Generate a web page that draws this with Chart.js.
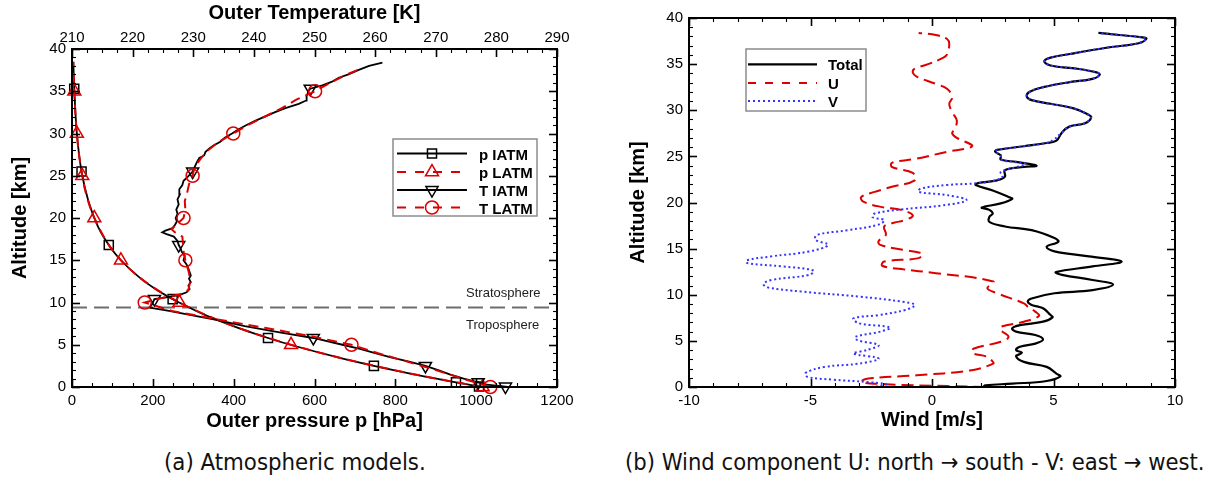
<!DOCTYPE html>
<html>
<head>
<meta charset="utf-8">
<title>Atmospheric models and wind profile</title>
<script src="https://cdn.jsdelivr.net/npm/chart.js@4.4.0/dist/chart.umd.min.js"></script>
<style>
  html, body { margin: 0; padding: 0; background: #fff; }
  #wrap { position: relative; width: 1210px; height: 481px; overflow: hidden; background: #fff; }
  canvas { position: absolute; top: 0; }
  #atmo { left: 0; }
  #wind { left: 605px; }
  .cap { position: absolute; white-space: nowrap; color: #111;
         font-family: "DejaVu Sans Condensed", "DejaVu Sans", sans-serif; font-size: 20px; line-height: 1.2; }
</style>
</head>
<body>
<div id="wrap">
  <canvas id="atmo" width="605" height="440" style="width:605px;height:440px"></canvas>
  <canvas id="wind" width="605" height="440" style="width:605px;height:440px"></canvas>
  <div class="cap" id="capA">(a) Atmospheric models.</div>
  <div class="cap" id="capB">(b) Wind component U: north → south - V: east → west.</div>
</div>
<script>
// ---------------- axis ticks ----------------
const altitudeTicks    = [0, 5, 10, 15, 20, 25, 30, 35, 40];
const pressureTicks    = [0, 200, 400, 600, 800, 1000, 1200];
const temperatureTicks = [210, 220, 230, 240, 250, 260, 270, 280, 290];
const windTicks        = [-10, -5, 0, 5, 10];

// ---------------- pressure [hPa] vs altitude [km] ----------------
const pIatmAlt = [0, 0.05, 0.55, 1.5, 2.5, 3.5, 5, 5.8, 7, 8.5, 10, 10.4, 11.5, 13, 15, 16.8, 19, 22, 25.5, 30, 35.3, 38.5];
const pIatm    = [1013, 1007, 950, 846, 747, 658, 540, 485, 411, 330, 265, 249, 209, 166, 121, 91, 64, 40.5, 23.6, 12.0, 5.5, 3.3];

const pLatmAlt = [0, 1, 2, 3, 4, 5, 6, 7, 8, 9, 10, 11, 12, 13, 15, 17, 20, 22.5, 25, 27.5, 30, 32.5, 35, 38.5];
const pLatm    = [1016, 901, 797, 703, 618, 542, 473, 412, 357, 309, 266, 228, 195, 166, 121, 88.5, 55.3, 36.8, 25.4, 17.4, 12.0, 8.3, 5.7, 3.3];

// ---------------- temperature [K] vs altitude [km] ----------------
const tIatmAlt = [0, 0.05, 0.3, 0.55, 1.0, 1.5, 2.0, 2.5, 3.0, 3.5, 4.0, 4.5, 5.0, 5.8, 6.5, 7.2, 7.9, 8.6, 9.0, 9.4,
                  9.8, 10.4, 10.6, 10.9, 11.2, 11.6, 12.0, 12.4, 12.8, 13.2, 13.6, 14.0, 14.5, 15.0, 15.5, 16.0, 16.4, 16.8,
                  17.3, 17.8, 18.1, 18.3, 18.5, 18.8, 19.2, 19.6, 20.0, 20.5, 21.0, 21.6, 22.2, 22.8, 23.4, 23.9, 24.4, 24.8,
                  25.5, 26.0, 26.6, 27.1, 27.4, 27.8, 28.2, 28.6, 29.0, 29.5, 30.0, 30.5, 31.0, 31.5, 32.0, 32.5, 33.0, 33.5,
                  33.9, 34.4, 35.0, 35.3, 35.7, 36.1, 36.6, 37.0, 37.5, 38.0, 38.4];
const tIatm    = [281.8, 281.5, 278.0, 277.0, 274.6, 272.3, 270.4, 268.3, 265.6, 262.6, 260.0, 257.5, 254.6, 249.8, 244.0, 238.5, 234.0, 229.0, 226.0, 222.8,
                  223.2, 223.6, 225.5, 227.8, 228.9, 229.4, 229.2, 229.6, 229.3, 229.6, 229.4, 229.2, 228.9, 228.4, 228.6, 228.1, 227.9, 227.6,
                  227.4, 226.8, 225.6, 224.9, 225.4, 226.6, 227.0, 227.3, 227.1, 227.4, 227.2, 227.6, 227.4, 227.8, 227.7, 228.2, 228.4, 229.0,
                  229.9, 230.2, 230.6, 231.0, 231.8, 232.0, 232.6, 233.4, 234.4, 235.2, 236.4, 237.5, 238.8, 240.2, 241.8, 243.4, 245.2, 247.4,
                  248.6, 248.7, 249.0, 249.3, 251.3, 252.8, 254.0, 255.6, 257.2, 259.0, 261.2];

const tLatmAlt = [0, 0.5, 1, 2, 3, 4, 5, 6, 7, 8, 9, 10, 10.5, 11, 11.5, 12.5, 13.5, 15, 16, 17, 17.8, 18.3, 18.7, 19.2,
                  20, 21, 22, 23, 24, 25, 26, 27, 28, 29, 30, 31, 32, 33, 34, 35, 36, 37, 37.6];
const tLatm    = [279.0, 276.8, 274.4, 270.0, 265.3, 260.5, 256.1, 249.5, 241.8, 234.0, 226.5, 222.0, 224.6, 228.0, 229.2, 229.5, 229.3, 228.7, 228.4, 228.3, 228.2, 227.0, 226.4, 227.2,
                  228.4, 228.7, 228.6, 229.0, 229.3, 229.9, 230.2, 231.2, 232.4, 234.2, 236.6, 239.0, 241.8, 244.6, 247.0, 250.1, 252.6, 255.4, 257.4];

// altitudes carrying a symbol on each model curve
const iatmMarkerAlt = [0.05, 0.55, 2.5, 5.8, 10.4, 16.8, 25.5, 35.3];
const latmMarkerAlt = [0, 5, 10, 15, 20, 25, 30, 35];

// tropopause height [km]
const tropopauseAlt = 9.4;

// ---------------- wind [m/s] vs altitude [km] ----------------
const totalAlt = [0, 0.18, 0.36, 0.65, 1.15, 1.45, 2.18, 2.72, 3.34, 3.7, 4.0, 4.36, 4.7, 5.15, 5.63, 6.0, 6.35, 6.7, 7.08, 7.55,
                  7.8, 8.53, 8.9, 9.26, 9.6, 10.16, 10.5, 11.1, 11.6, 12.16, 12.45, 13.07, 13.6, 14.16, 14.7, 15.2, 15.75, 16.15,
                  17.0, 17.4, 17.9, 18.45, 18.8, 19.2, 19.45, 19.9, 20.4, 20.6, 21.3, 21.9, 22.1, 22.4, 22.8, 23.5, 23.85, 24.0,
                  24.4, 24.65, 25.1, 25.5, 25.7, 26.1, 26.45, 26.7, 27.6, 28.25, 28.6, 29.25, 29.6, 30.2, 30.7, 31.1, 31.5, 32.0,
                  32.5, 33.05, 33.4, 33.85, 34.1, 34.5, 34.85, 35.3, 35.7, 36.1, 36.8, 37.26, 37.75, 37.9, 38.16, 38.38];
const total    = [2.1, 2.2, 3.3, 4.72, 5.28, 5.12, 4.72, 3.78, 3.46, 3.7, 3.46, 3.62, 4.25, 4.57, 4.25, 3.46, 3.3, 3.62, 4.57, 4.96,
                  4.88, 4.57, 4.1, 3.94, 4.1, 5.04, 6.61, 7.45, 6.61, 5.35, 5.1, 6.61, 7.8, 6.46, 5.04, 4.72, 5.2, 5.04,
                  4.1, 3.0, 2.36, 2.36, 2.5, 2.36, 2.05, 2.83, 3.3, 3.15, 2.5, 1.8, 1.89, 2.68, 3.0, 3.0, 3.78, 4.3,
                  3.46, 2.83, 2.83, 2.6, 2.68, 3.78, 4.72, 5.12, 5.35, 5.67, 6.3, 6.55, 6.38, 5.83, 4.88, 4.1, 3.9, 4.02,
                  4.57, 5.67, 6.6, 6.9, 6.77, 5.98, 4.88, 4.62, 4.88, 5.67, 7.24, 8.5, 8.82, 8.66, 7.7, 6.85];

const uAlt = [0, 0.1, 0.3, 0.54, 0.9, 1.27, 1.8, 2.54, 2.9, 3.27, 3.7, 4.17, 4.9, 5.44, 6.17, 6.53, 7.08, 7.7, 8.17, 8.7,
              9.07, 10.16, 10.7, 11.43, 12.34, 12.78, 13.14, 13.6, 13.97, 14.45, 14.9, 15.4, 15.8, 16.5, 17.4, 17.8, 18.1, 18.6,
              19.2, 19.5, 20.1, 20.6, 21.15, 21.7, 22.4, 23.2, 23.85, 24.3, 24.75, 25.5, 25.9, 26.2, 27.0, 27.5, 28.0, 28.9,
              29.8, 30.7, 31.4, 32.3, 32.86, 33.65, 34.1, 34.5, 35.0, 35.7, 36.1, 37.2, 37.7, 38.16, 38.38];
const u    = [2.2, 0.63, -1.89, -2.91, -2.68, -0.63, 1.57, 2.52, 2.45, 2.28, 1.65, 1.73, 2.83, 3.15, 2.83, 2.83, 3.78, 4.4, 4.25, 3.94,
              3.78, 2.68, 2.28, 2.52, 0.16, -1.26, -2.05, -1.97, -0.55, -0.39, -1.26, -2.13, -2.2, -1.9, -1.97, -1.57, -1.1, -0.79,
              -1.26, -2.05, -2.83, -2.91, -2.36, -1.65, -0.71, -0.79, -1.65, -1.65, -0.63, 0.63, 1.5, 1.65, 1.02, 0.83, 0.94, 1.02,
              0.83, 0.71, 0.83, 0.63, 0.16, -0.63, -0.79, -0.71, -0.16, 0.47, 0.63, 0.71, 0.63, 0.16, -0.55];

const vAlt = [0, 0.1, 0.3, 0.54, 0.8, 1.09, 1.52, 2.18, 2.54, 3.09, 3.63, 4.0, 4.54, 5.08, 5.44, 6.0, 6.46, 6.9, 7.44, 7.8,
              8.35, 8.9, 9.26, 9.8, 10.34, 10.8, 11.18, 11.6, 12.16, 12.63, 13.07, 13.43, 13.72, 14.16, 14.7, 15.4, 15.97, 16.5,
              17.0, 17.6, 18.1, 18.4, 18.8, 19.25, 19.7, 20.25, 20.8, 21.15, 21.5, 21.9, 22.1, 22.4, 22.8, 23.3, 23.85, 24.2,
              24.4, 24.65, 25.1, 25.5, 25.7, 26.1, 26.45, 26.8, 27.6, 28.25, 28.6, 29.25, 29.6, 30.2, 30.7, 31.1, 31.5, 32.0,
              32.5, 33.05, 33.4, 33.85, 34.1, 34.5, 34.85, 35.3, 35.7, 36.1, 36.8, 37.26, 37.75, 37.9, 38.16, 38.38];
const v    = [-2.5, -2.2, -1.89, -2.68, -4.1, -5.12, -5.2, -4.41, -2.99, -2.2, -3.23, -2.68, -2.2, -3.07, -3.15, -2.13, -1.73, -2.99, -3.23, -2.2,
              -1.1, -0.71, -1.26, -2.99, -5.35, -6.77, -6.93, -6.61, -5.04, -4.88, -6.14, -7.6, -7.64, -6.61, -5.04, -4.28, -4.8, -4.72,
              -3.46, -2.2, -1.97, -2.44, -2.36, -1.26, 0.47, 1.42, 0.63, -0.55, -0.47, 0.63, 1.89, 2.6, 2.9, 2.83, 3.5, 3.86,
              3.4, 2.83, 2.83, 2.6, 2.68, 3.78, 4.72, 5.0, 5.35, 5.67, 6.3, 6.55, 6.38, 5.83, 4.88, 4.1, 3.9, 4.02,
              4.57, 5.67, 6.6, 6.9, 6.77, 5.98, 4.88, 4.62, 4.88, 5.67, 7.24, 8.5, 8.82, 8.66, 7.7, 6.85];

// ---------------- helpers ----------------
const RED = '#dd0000', BLACK = '#000000', BLUE = '#3434ff', GRAY = '#6e6e6e';
const FONT = '"Liberation Sans", Arial, Helvetica, sans-serif';
const xy = (vals, alts) => vals.map((val, i) => ({ x: val, y: alts[i] }));
const markedAt = (alts, r) => c => (c.raw && alts.includes(c.raw.y)) ? r : 0;
const fixedTicks = list => scale => { scale.ticks = list.map(value => ({ value })); };
const plain = val => String(val);

function drawMarker(ctx, style, x, y, r, rot) {
  ctx.beginPath();
  if (style === 'rect') {
    const s = Math.SQRT1_2 * r;
    ctx.rect(x - s, y - s, 2 * s, 2 * s);
  } else if (style === 'circle') {
    ctx.arc(x, y, r, 0, Math.PI * 2);
  } else if (style === 'triangle') {
    let a = (rot || 0) * Math.PI / 180;
    for (let k = 0; k < 3; k++) {
      const px = x + Math.sin(a) * r, py = y - Math.cos(a) * r;
      k === 0 ? ctx.moveTo(px, py) : ctx.lineTo(px, py);
      a += 2 * Math.PI / 3;
    }
    ctx.closePath();
  }
  ctx.stroke();
}

// inward major/minor ticks on every side plus the plot frame
const frameTicks = {
  id: 'frameTicks',
  afterDatasetsDraw(chart, args, opts) {
    const { ctx, chartArea: a } = chart;
    ctx.save();
    ctx.strokeStyle = '#000';
    for (const side of opts.sides) {
      const sc = chart.scales[side.scale];
      const n = Math.round((sc.max - sc.min) / side.minor);
      for (let k = 0; k <= n; k++) {
        const val = sc.min + k * side.minor;
        const q = val / side.major;
        const major = Math.abs(q - Math.round(q)) < 1e-6;
        const len = major ? 8 : 4;
        ctx.lineWidth = major ? 1.6 : 1.1;
        const p = Math.round(sc.getPixelForValue(val)) + 0.5;
        ctx.beginPath();
        if (side.edge === 'bottom') { ctx.moveTo(p, a.bottom); ctx.lineTo(p, a.bottom - len); }
        else if (side.edge === 'top') { ctx.moveTo(p, a.top); ctx.lineTo(p, a.top + len); }
        else if (side.edge === 'left') { ctx.moveTo(a.left, p); ctx.lineTo(a.left + len, p); }
        else { ctx.moveTo(a.right, p); ctx.lineTo(a.right - len, p); }
        ctx.stroke();
      }
    }
    ctx.lineWidth = 2;
    ctx.strokeRect(a.left, a.top, a.right - a.left, a.bottom - a.top);
    ctx.restore();
  }
};

// boxed legend with line sample, optional symbol and bold label
const boxLegend = {
  id: 'boxLegend',
  afterDraw(chart, args, o) {
    const ctx = chart.ctx;
    ctx.save();
    ctx.fillStyle = '#fff';
    ctx.fillRect(o.x, o.y, o.w, o.h);
    ctx.strokeStyle = '#8c8c8c';
    ctx.lineWidth = 1.5;
    ctx.strokeRect(o.x, o.y, o.w, o.h);
    for (const it of o.items) {
      ctx.strokeStyle = it.color;
      ctx.lineWidth = it.width;
      ctx.setLineDash(it.dash || []);
      ctx.beginPath();
      ctx.moveTo(o.lineX0, it.y);
      ctx.lineTo(o.lineX1, it.y);
      ctx.stroke();
      ctx.setLineDash([]);
      if (it.marker) {
        ctx.lineWidth = 1.5;
        drawMarker(ctx, it.marker, (o.lineX0 + o.lineX1) / 2, it.y, it.r, it.rot);
      }
      ctx.fillStyle = '#000';
      ctx.font = 'bold 15px ' + FONT;
      ctx.textBaseline = 'alphabetic';
      ctx.fillText(it.label, o.textX, it.y + 6);
    }
    ctx.restore();
  }
};

// layer names beside the tropopause line
const layerNames = {
  id: 'layerNames',
  afterDatasetsDraw(chart, args, o) {
    const ctx = chart.ctx, sx = chart.scales.x, sy = chart.scales.y;
    ctx.save();
    ctx.fillStyle = '#222';
    ctx.font = '13px ' + FONT;
    ctx.textBaseline = 'middle';
    for (const t of o.items) ctx.fillText(t.text, sx.getPixelForValue(o.x), sy.getPixelForValue(t.alt));
    ctx.restore();
  }
};

Chart.defaults.color = '#000';
Chart.defaults.font.family = FONT;

const tickFont = { family: FONT, size: 15 };
const titleFont = { family: FONT, size: 20, weight: 'bold', lineHeight: 1 };
const base = {
  animation: false, responsive: false, events: [],
  plugins: { legend: { display: false }, tooltip: { enabled: false } }
};

// ---------------- (a) atmospheric models ----------------
new Chart(document.getElementById('atmo'), {
  type: 'scatter',
  data: {
    datasets: [
      { label: 'T LATM', xAxisID: 'xT', data: xy(tLatm, tLatmAlt), showLine: true, clip: false,
        borderColor: RED, borderWidth: 2, borderDash: [10, 6], tension: 0,
        pointStyle: 'circle', pointRadius: markedAt(latmMarkerAlt, 6.5), pointBorderColor: RED,
        pointBorderWidth: 1.5, pointBackgroundColor: 'rgba(0,0,0,0)' },
      { label: 'T IATM', xAxisID: 'xT', data: xy(tIatm, tIatmAlt), showLine: true, clip: false,
        borderColor: BLACK, borderWidth: 1.8, tension: 0,
        pointStyle: 'triangle', pointRotation: 180, pointRadius: markedAt(iatmMarkerAlt, 7), pointBorderColor: BLACK,
        pointBorderWidth: 1.5, pointBackgroundColor: 'rgba(0,0,0,0)' },
      { label: 'p LATM', xAxisID: 'x', data: xy(pLatm, pLatmAlt), showLine: true, clip: false,
        borderColor: RED, borderWidth: 2, borderDash: [10, 6], tension: 0.35,
        pointStyle: 'triangle', pointRadius: markedAt(latmMarkerAlt, 7.5), pointBorderColor: RED,
        pointBorderWidth: 1.5, pointBackgroundColor: 'rgba(0,0,0,0)' },
      { label: 'p IATM', xAxisID: 'x', data: xy(pIatm, pIatmAlt), showLine: true, clip: false,
        borderColor: BLACK, borderWidth: 1.8, tension: 0.35,
        pointStyle: 'rect', pointRadius: markedAt(iatmMarkerAlt, 6.4), pointBorderColor: BLACK,
        pointBorderWidth: 1.5, pointBackgroundColor: 'rgba(0,0,0,0)' },
      { label: 'Tropopause', xAxisID: 'x', data: xy([0, 1200], [tropopauseAlt, tropopauseAlt]), showLine: true,
        borderColor: GRAY, borderWidth: 2, borderDash: [15, 7], pointRadius: 0 }
    ]
  },
  options: {
    ...base,
    layout: { padding: { left: 0, top: 0, right: 48, bottom: 0 } },
    scales: {
      x: { type: 'linear', position: 'bottom', min: 0, max: 1200,
           afterBuildTicks: fixedTicks(pressureTicks), afterFit: s => { s.height = 53; },
           grid: { display: false, drawTicks: false }, border: { display: false },
           ticks: { font: tickFont, padding: 5, maxRotation: 0, autoSkip: false, callback: plain },
           title: { display: true, text: 'Outer pressure p [hPa]', font: titleFont, padding: { bottom: 9 } } },
      xT: { type: 'linear', position: 'top', min: 210, max: 290,
            afterBuildTicks: fixedTicks(temperatureTicks), afterFit: s => { s.height = 49; },
            grid: { display: false, drawTicks: false }, border: { display: false },
            ticks: { font: tickFont, padding: 2, maxRotation: 0, autoSkip: false, callback: plain },
            title: { display: true, text: 'Outer Temperature [K]', font: titleFont, padding: { top: 3 } } },
      y: { type: 'linear', position: 'left', min: 0, max: 40,
           afterBuildTicks: fixedTicks(altitudeTicks), afterFit: s => { s.width = 72; },
           grid: { display: false, drawTicks: false }, border: { display: false },
           ticks: { font: tickFont, padding: 6, autoSkip: false, callback: plain },
           title: { display: true, text: 'Altitude [km]', font: titleFont, padding: { top: 10 } } }
    },
    plugins: {
      ...base.plugins,
      frameTicks: { sides: [
        { scale: 'x', edge: 'bottom', major: 200, minor: 50 },
        { scale: 'xT', edge: 'top', major: 10, minor: 2.5 },
        { scale: 'y', edge: 'left', major: 5, minor: 1 },
        { scale: 'y', edge: 'right', major: 5, minor: 1 } ] },
      layerNames: { x: 975, items: [ { text: 'Stratosphere', alt: 11.1 }, { text: 'Troposphere', alt: 7.3 } ] },
      boxLegend: { x: 393, y: 139, w: 144, h: 77, lineX0: 397, lineX1: 467, textX: 479, items: [
        { label: 'p IATM', color: BLACK, width: 1.8, marker: 'rect', r: 6.4, y: 153.5 },
        { label: 'p LATM', color: RED, width: 2, dash: [9, 9], marker: 'triangle', r: 7.5, y: 172 },
        { label: 'T IATM', color: BLACK, width: 1.8, marker: 'triangle', rot: 180, r: 7, y: 190 },
        { label: 'T LATM', color: RED, width: 2, dash: [9, 9], marker: 'circle', r: 6.5, y: 207.5 } ] }
    }
  },
  plugins: [frameTicks, layerNames, boxLegend]
});

// ---------------- (b) wind components ----------------
new Chart(document.getElementById('wind'), {
  type: 'scatter',
  data: {
    datasets: [
      { label: 'V', data: xy(v, vAlt), showLine: true, borderColor: BLUE, borderWidth: 2,
        borderDash: [2, 2.7], tension: 0.4, pointRadius: 0 },
      { label: 'U', data: xy(u, uAlt), showLine: true, borderColor: RED, borderWidth: 2,
        borderDash: [12, 6], tension: 0.4, pointRadius: 0 },
      { label: 'Total', data: xy(total, totalAlt), showLine: true, borderColor: BLACK, borderWidth: 2.2,
        tension: 0.4, pointRadius: 0 }
    ]
  },
  options: {
    ...base,
    layout: { padding: { left: 0, top: 18, right: 35, bottom: 0 } },
    scales: {
      x: { type: 'linear', position: 'bottom', min: -10, max: 10,
           afterBuildTicks: fixedTicks(windTicks), afterFit: s => { s.height = 53; },
           grid: { display: false, drawTicks: false }, border: { display: false },
           ticks: { font: tickFont, padding: 5, maxRotation: 0, autoSkip: false, callback: plain },
           title: { display: true, text: 'Wind [m/s]', font: titleFont, padding: { bottom: 10 } } },
      y: { type: 'linear', position: 'left', min: 0, max: 40,
           afterBuildTicks: fixedTicks(altitudeTicks), afterFit: s => { s.width = 84; },
           grid: { display: false, drawTicks: false }, border: { display: false },
           ticks: { font: tickFont, padding: 6, autoSkip: false, callback: plain },
           title: { display: true, text: 'Altitude [km]', font: titleFont, padding: { top: 23 } } }
    },
    plugins: {
      ...base.plugins,
      frameTicks: { sides: [
        { scale: 'x', edge: 'bottom', major: 5, minor: 1 },
        { scale: 'x', edge: 'top', major: 5, minor: 1 },
        { scale: 'y', edge: 'left', major: 5, minor: 1 },
        { scale: 'y', edge: 'right', major: 5, minor: 1 } ] },
      boxLegend: { x: 141, y: 49, w: 120, h: 62, lineX0: 143, lineX1: 212, textX: 223, items: [
        { label: 'Total', color: BLACK, width: 2.2, y: 64.3 },
        { label: 'U', color: RED, width: 2, dash: [8, 9], y: 83 },
        { label: 'V', color: BLUE, width: 2, dash: [2, 3], y: 101 } ] }
    }
  },
  plugins: [frameTicks, boxLegend]
});

// captions: scale the type so each line spans its measured width
function placeCaption(id, left, width, midY) {
  const el = document.getElementById(id);
  const w0 = el.getBoundingClientRect().width;
  const fs = 20 * width / w0;
  el.style.fontSize = fs + 'px';
  el.style.left = left + 'px';
  el.style.top = (midY - 0.6 * fs) + 'px';
}
placeCaption('capA', 164, 262, 462);
placeCaption('capB', 625, 580, 462);
</script>
</body>
</html>
